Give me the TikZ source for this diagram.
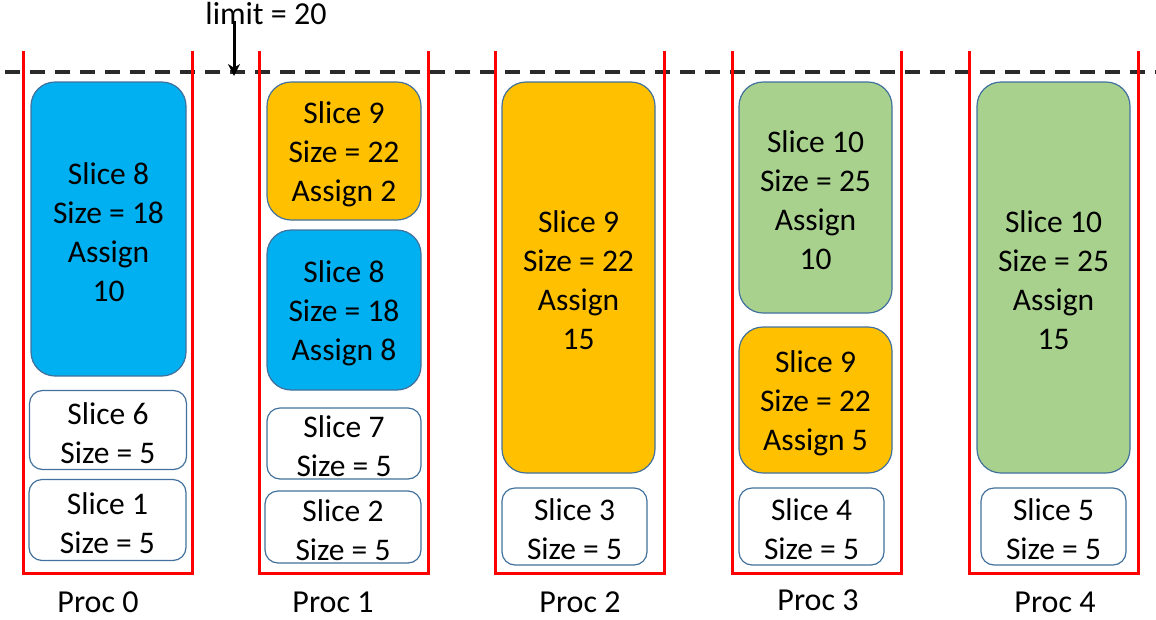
\documentclass[tikz,border=0pt]{standalone}
\usepackage{fontspec}
\setmainfont{Carlito}
\usetikzlibrary{arrows.meta}
\definecolor{boxline}{HTML}{41719C}
\definecolor{cblue}{HTML}{00B0F0}
\definecolor{corange}{HTML}{FFC000}
\definecolor{cgreen}{HTML}{A9D18E}
\definecolor{cred}{HTML}{FF0000}
\definecolor{cdash}{HTML}{2B2B2B}
\newcommand\slicenode[7]{%
  \node[slicebox,#6,minimum width=#4pt,minimum height=#5pt] (#1) at (#2,#3) {};
  \node[slicetext] (#1t) at ([yshift=-3pt]#1.center) {#7};}
\begin{document}
\begin{tikzpicture}[x=1pt,y=-1pt,
  slicebox/.style={draw=boxline, line width=1.2pt, inner sep=0pt},
  slicetext/.style={align=center, inner sep=0pt, font=\fontsize{31.5}{39}\selectfont},
  bigr/.style={rounded corners=24pt},
  smallr/.style={rounded corners=13pt},
  proc/.style={draw=cred, line width=3pt},
  proclabel/.style={font=\fontsize{32}{38}\selectfont, inner sep=0pt},
]
\useasboundingbox (0,0) rectangle (1156,619);
% limit line
\coordinate (dl) at (5,72);
\coordinate (dr) at (1156,72);
\draw[cdash, line width=3.2pt, dash pattern=on 15pt off 10pt] (dl) -- (dr);
\node[proclabel] (limit) at (266,14) {limit = 20};
\coordinate (limtail) at (234,21);
\coordinate (limtip) at (234,76);
\draw[line width=3pt, -{Stealth[length=12pt,width=12pt]}] (limtail) -- (limtip);
% containers
\foreach \x/\n in {23/0,259/1,495/2,732/3,969/4}{
  \draw[proc] (\x,51) -- (\x,573) -- ({\x+169},573) -- ({\x+169},51);
}
% Proc 0
\slicenode{p0s8}{108.5}{229}{155}{294}{bigr,fill=cblue}{Slice 8\\Size = 18\\Assign\\10}
\slicenode{p0s6}{108}{430}{157}{79}{smallr,fill=white}{Slice 6\\Size = 5}
\slicenode{p0s1}{107.5}{520}{157}{81}{smallr,fill=white}{Slice 1\\Size = 5}
% Proc 1
\slicenode{p1s9}{344}{151}{154}{138}{bigr,fill=corange}{Slice 9\\Size = 22\\Assign 2}
\slicenode{p1s8}{344}{310}{154}{160}{bigr,fill=cblue}{Slice 8\\Size = 18\\Assign 8}
\slicenode{p1s7}{344}{443.5}{154}{71}{smallr,fill=white}{Slice 7\\Size = 5}
\slicenode{p1s2}{343}{527}{156}{72}{smallr,fill=white}{Slice 2\\Size = 5}
% Proc 2
\slicenode{p2s9}{578.5}{277.5}{153}{391}{bigr,fill=corange}{Slice 9\\Size = 22\\Assign\\15}
\slicenode{p2s3}{574.5}{526.5}{145}{77}{smallr,fill=white}{Slice 3\\Size = 5}
% Proc 3
\slicenode{p3s10}{815.5}{197.5}{153}{231}{bigr,fill=cgreen}{Slice 10\\Size = 25\\Assign\\10}
\slicenode{p3s9}{815.5}{400}{153}{146}{bigr,fill=corange}{Slice 9\\Size = 22\\Assign 5}
\slicenode{p3s4}{811.5}{526.5}{145}{77}{smallr,fill=white}{Slice 4\\Size = 5}
% Proc 4
\slicenode{p4s10}{1053.5}{277.5}{153}{391}{bigr,fill=cgreen}{Slice 10\\Size = 25\\Assign\\15}
\slicenode{p4s5}{1053.5}{526.5}{145}{77}{smallr,fill=white}{Slice 5\\Size = 5}
% labels
\node[proclabel] (l0) at (98,602) {Proc 0};
\node[proclabel] (l1) at (333,602) {Proc 1};
\node[proclabel] (l2) at (580,602) {Proc 2};
\node[proclabel] (l3) at (818,600) {Proc 3};
\node[proclabel] (l4) at (1055,602) {Proc 4};
\end{tikzpicture}
\end{document}
